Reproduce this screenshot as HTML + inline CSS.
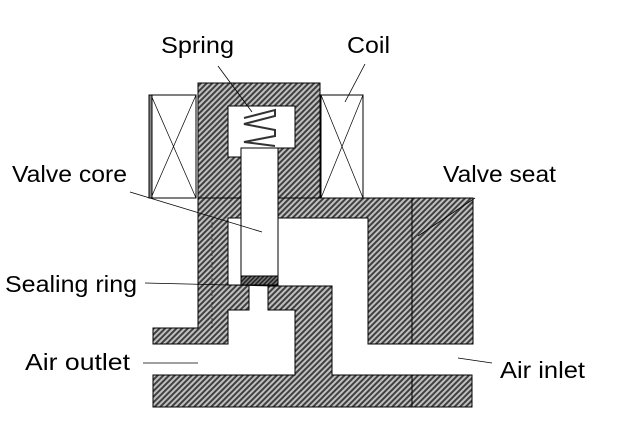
<!DOCTYPE html>
<html><head><meta charset="utf-8"><style>html,body{margin:0;padding:0;background:#fff}svg{display:block}text{font-family:"Liberation Sans",sans-serif;font-size:23px;fill:#000}</style></head>
<body>
<svg width="629" height="431" viewBox="0 0 629 431" xmlns="http://www.w3.org/2000/svg">
<defs>
<pattern id="h" width="4" height="4" patternUnits="userSpaceOnUse" patternTransform="rotate(45)">
<rect width="4" height="4" fill="#c0c0c0"/><rect width="2" height="4" fill="#404040"/>
</pattern>
<pattern id="d" width="3" height="3" patternUnits="userSpaceOnUse" patternTransform="rotate(45)">
<rect width="3" height="3" fill="#777"/><rect width="1.5" height="3" fill="#222"/>
</pattern>
</defs>
<g stroke="#000" stroke-width="1">
<path d="M198,83 H320 V198 H278 V148 H295 V106 H228 V157 H241 V198 H198 Z" fill="url(#h)"/>
<path d="M198,198 H241 V218 H228 V285 H249 V310 H228 V328 V344 H153 V328 H198 Z" fill="url(#h)"/>
<line x1="212" y1="218" x2="212" y2="328" stroke-dasharray="2,2" stroke-width="0.6"/>
<path d="M278,198 H473 V344 H368 V218 H278 Z" fill="url(#h)"/>
<line x1="412" y1="198" x2="412" y2="344"/>
<path d="M268,286 H332 V375 H472 V407 H153 V375 H295 V310 H268 Z" fill="url(#h)"/>
<line x1="412" y1="375" x2="412" y2="407"/>
<rect x="241" y="148" width="37" height="128" fill="#fff"/>
<rect x="241" y="276" width="37" height="9" fill="url(#d)"/>
<path d="M244,118 L275,110 L275,116 L244,124 L275,130 L275,136 L244,142 L275,146" fill="none" stroke="#333" stroke-width="2"/>
<rect x="151" y="95" width="45" height="103" fill="#fff"/>
<line x1="151" y1="95" x2="196" y2="198" stroke-width="0.7"/><line x1="196" y1="95" x2="151" y2="198" stroke-width="0.7"/>
<rect x="149" y="95" width="3" height="103" fill="#888"/>
<rect x="321" y="95" width="42" height="103" fill="#fff"/>
<line x1="321" y1="95" x2="363" y2="198" stroke-width="0.7"/><line x1="363" y1="95" x2="321" y2="198" stroke-width="0.7"/>
<g stroke-width="0.8" fill="none">
<line x1="218" y1="66" x2="252" y2="112"/>
<line x1="365" y1="64" x2="345" y2="102"/>
<line x1="130" y1="192" x2="262" y2="232"/>
<line x1="475" y1="198" x2="418" y2="236"/>
<line x1="145" y1="283" x2="270" y2="286"/>
<line x1="143" y1="363" x2="198" y2="363"/>
<line x1="458" y1="358" x2="492" y2="363"/>
</g>
</g>
<g>
<text x="161" y="53" textLength="73" lengthAdjust="spacingAndGlyphs">Spring</text>
<text x="347" y="53" textLength="43" lengthAdjust="spacingAndGlyphs">Coil</text>
<text x="12" y="182" textLength="115" lengthAdjust="spacingAndGlyphs">Valve core</text>
<text x="443" y="182" textLength="113" lengthAdjust="spacingAndGlyphs">Valve seat</text>
<text x="5" y="292" textLength="132" lengthAdjust="spacingAndGlyphs">Sealing ring</text>
<text x="25" y="370" textLength="105" lengthAdjust="spacingAndGlyphs">Air outlet</text>
<text x="500" y="378" textLength="85" lengthAdjust="spacingAndGlyphs">Air inlet</text>
</g>
</svg>
</body></html>
